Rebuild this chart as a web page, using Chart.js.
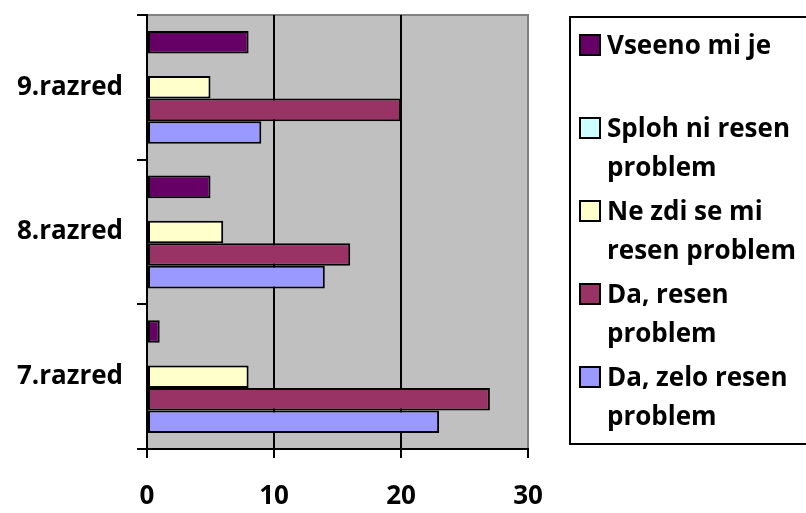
<!DOCTYPE html>
<html>
<head>
<meta charset="utf-8">
<script src="https://cdn.jsdelivr.net/npm/chart.js@4/dist/chart.umd.min.js"></script>
<style>
body { margin: 0; background: #fff; }
#wrap { position: relative; width: 806px; height: 513px; overflow: hidden; }
#legend {
  position: absolute; left: 569px; top: 16px; width: 240px; height: 429px;
  border: 2px solid #000; box-sizing: border-box; padding-top: 7px;
  font: bold 26px "Open Sans", sans-serif; color: #000;
}
.item { display: flex; height: 83px; }
.box { width: 22px; height: 22px; border: 2px solid #000; margin: 9px 6px 0 8px; flex: none; box-sizing: border-box; }
.txt { line-height: 39px; white-space: nowrap; }
</style>
</head>
<body>
<div id="wrap">
<canvas id="myChart" width="806" height="513"></canvas>
<div id="legend"></div>
</div>
<script>
// razredi, od zgoraj navzdol
const categories = ['9.razred', '8.razred', '7.razred'];
const seriesNames = ['Vseeno mi je', 'Sploh ni resen problem', 'Ne zdi se mi resen problem', 'Da, resen problem', 'Da, zelo resen problem'];
const legendLines = [['Vseeno mi je'], ['Sploh ni resen', 'problem'], ['Ne zdi se mi', 'resen problem'], ['Da, resen', 'problem'], ['Da, zelo resen', 'problem']];
const vseeno = [8, 5, 1];
const sploh = [0, 0, 0];
const neZdi = [5, 6, 8];
const resen = [20, 16, 27];
const zeloResen = [9, 14, 23];
const colors = ['#660066', '#CCFFFF', '#FFFFCC', '#993366', '#9999FF'];
const xTicks = [0, 10, 20, 30];

const values = [vseeno, sploh, neZdi, resen, zeloResen];

const plotBg = {
  id: 'plotBg',
  beforeDraw(chart) {
    const a = chart.chartArea, c = chart.ctx;
    c.save();
    c.fillStyle = '#C0C0C0';
    c.fillRect(a.left, a.top, a.right - a.left, a.bottom - a.top);
    c.strokeStyle = '#808080';
    c.lineWidth = 2;
    c.beginPath();
    c.moveTo(a.left, a.top);
    c.lineTo(a.right, a.top);
    c.lineTo(a.right, a.bottom);
    c.stroke();
    c.restore();
  }
};

const ctx = document.getElementById('myChart');
new Chart(ctx, {
  type: 'bar',
  data: {
    labels: categories,
    datasets: seriesNames.map((name, i) => ({
      label: name,
      data: values[i],
      backgroundColor: colors[i],
      borderColor: '#000',
      borderWidth: 2,
      borderSkipped: false,
      barPercentage: 1,
      categoryPercentage: 0.78
    }))
  },
  options: {
    indexAxis: 'y',
    responsive: false,
    animation: false,
    layout: { padding: { top: 15, right: 278, left: 0, bottom: 0 } },
    plugins: { legend: { display: false }, tooltip: { enabled: false } },
    scales: {
      x: {
        min: 0, max: 30,
        afterBuildTicks: s => { s.ticks = xTicks.map(v => ({ value: v })); },
        afterFit: s => { s.height = 64; s.paddingLeft = 0; s.paddingRight = 0; },
        grid: {
          color: c => c.index === 3 ? '#808080' : '#000',
          lineWidth: 2, tickLength: 9, tickColor: '#000'
        },
        border: { color: '#000', width: 2 },
        ticks: { color: '#000', font: { family: 'Open Sans', weight: 'bold', size: 26 }, padding: 23 }
      },
      y: {
        afterFit: s => { s.width = 147; s.paddingTop = 0; s.paddingBottom = 0; },
        grid: { drawOnChartArea: false, tickLength: 10, tickColor: '#000', lineWidth: 2 },
        border: { color: '#000', width: 2 },
        ticks: { color: '#000', font: { family: 'Open Sans', weight: 'bold', size: 26 }, padding: 14 }
      }
    }
  },
  plugins: [plotBg]
});

const legend = document.getElementById('legend');
seriesNames.forEach((name, i) => {
  const item = document.createElement('div');
  item.className = 'item';
  const box = document.createElement('div');
  box.className = 'box';
  box.style.background = colors[i];
  const txt = document.createElement('div');
  txt.className = 'txt';
  txt.innerHTML = legendLines[i].join('<br>');
  item.appendChild(box);
  item.appendChild(txt);
  legend.appendChild(item);
});
</script>
</body>
</html>
